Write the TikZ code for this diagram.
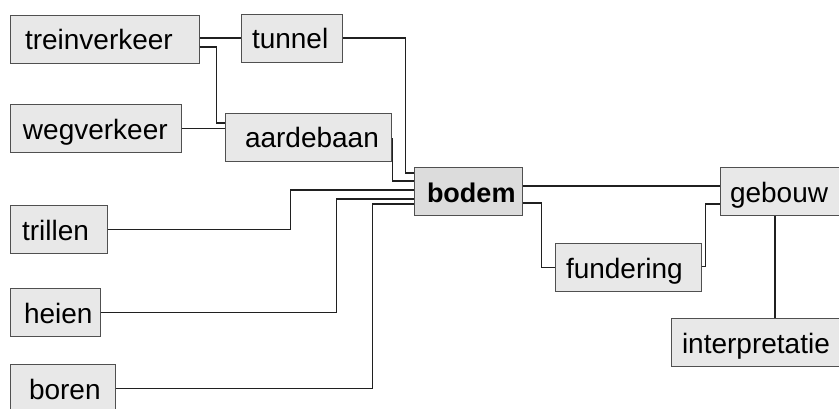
\documentclass[tikz,border=0pt]{standalone}
\usepackage{fontspec}
\setmainfont{Liberation Sans}
\usetikzlibrary{calc}
\definecolor{boxfill}{HTML}{E8E8E8}
\definecolor{boxfillmain}{HTML}{DCDCDC}
\definecolor{boxline}{HTML}{505050}
\definecolor{conn}{HTML}{202020}
\tikzset{
  box/.style={draw=boxline, line width=1pt, fill=boxfill, rectangle,
    minimum height=48pt, inner ysep=0pt, align=left,
    font=\fontsize{28}{33}\selectfont, text height=21pt, text depth=0pt},
  wire/.style={draw=conn, line width=1.3pt}
}
\newcommand{\bx}[6]{% name, center x, center y, width, pad, text
  \node[box, inner xsep=#5pt, text width=#4pt-2*#5pt] (#1) at (#2,#3) {#6};}
\begin{document}
\begin{tikzpicture}[x=1pt,y=-1pt]
\useasboundingbox (0,0) rectangle (839,408);
\fill[white] (0,0) rectangle (839,408);
\clip (0,0) rectangle (839,408);
\bx{trein}{104.5}{39}{189}{15}{treinverkeer}
\bx{tunnel}{291.5}{38}{101}{11}{tunnel}
\bx{weg}{95.5}{128.5}{171}{13}{wegverkeer}
\bx{aarde}{308}{137}{166}{20}{aardebaan}
\node[box, fill=boxfillmain, inner xsep=13pt, text width=108pt-26pt, font=\fontsize{27}{32}\selectfont\bfseries] (bodem) at (468,191.5) {bodem};
\bx{gebouw}{785}{191.5}{130}{10}{gebouw}
\bx{fund}{628}{267.5}{146}{11}{fundering}
\bx{interp}{760.5}{342.5}{179}{11}{interpretatie}
\bx{trillen}{58.5}{229.5}{97}{12}{trillen}
\bx{heien}{55}{312.5}{90}{14}{heien}
\bx{boren}{62.5}{388.5}{105}{19}{boren}
% connectors
\draw[wire] (tunnel.west) -- (tunnel.west -| trein.east);
\draw[wire] ($(trein.east)+(0,8)$) -| ($(aarde.west)+(-8,-14)$) -- ($(aarde.west)+(0,-14)$);
\draw[wire] (weg.east) -- (weg.east -| aarde.west);
\draw[wire] (tunnel.east) -| ($(bodem.west)+(-8,-18.5)$) -- ($(bodem.west)+(0,-18.5)$);
\draw[wire] ($(aarde.east)+(0,2)$) -| ($(bodem.west)+(-21,-10.5)$) -- ($(bodem.west)+(0,-10.5)$);
\draw[wire] (trillen.east) -| ($(bodem.west)+(-123,-1.5)$) -- ($(bodem.west)+(0,-1.5)$);
\draw[wire] (heien.east) -| ($(bodem.west)+(-77,7.5)$) -- ($(bodem.west)+(0,7.5)$);
\draw[wire] (boren.east) -| ($(bodem.west)+(-41,12.5)$) -- ($(bodem.west)+(0,12.5)$);
\draw[wire] ($(bodem.east)+(0,-5.5)$) -- ($(gebouw.west)+(0,-5.5)$);
\draw[wire] ($(bodem.east)+(0,11.5)$) -| ($(fund.west)+(-13,0)$) -- (fund.west);
\draw[wire] ($(fund.east)+(0,-1)$) -| ($(gebouw.west)+(-14,12.5)$) -- ($(gebouw.west)+(0,12.5)$);
\coordinate (g1) at ($(gebouw.south)+(-10,0)$);
\draw[wire] (g1) -- (g1 |- interp.north);
\end{tikzpicture}
\end{document}
